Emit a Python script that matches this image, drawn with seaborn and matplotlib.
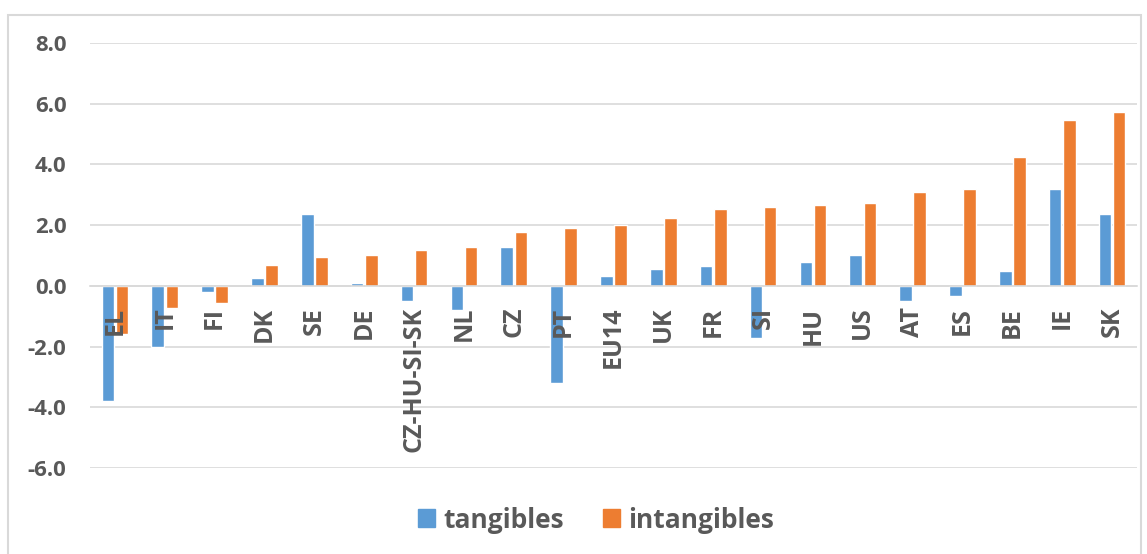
import pandas as pd
import matplotlib.pyplot as plt
import matplotlib.patches as mpatches
import seaborn as sns

# values
countries = ["EL", "IT", "FI", "DK", "SE", "DE", "CZ-HU-SI-SK", "NL", "CZ", "PT", "EU14",
             "UK", "FR", "SI", "HU", "US", "AT", "ES", "BE", "IE", "SK"]
tangibles = [-3.80, -2.03, -0.19, 0.27, 2.36, 0.09, -0.50, -0.78, 1.28, -3.20, 0.33,
             0.55, 0.66, -1.72, 0.77, 1.03, -0.50, -0.35, 0.49, 3.20, 2.36]
intangibles = [-1.60, -0.74, -0.56, 0.70, 0.95, 1.03, 1.17, 1.28, 1.79, 1.90, 1.99,
               2.25, 2.53, 2.61, 2.65, 2.72, 3.08, 3.20, 4.23, 5.47, 5.72]
series_names = ["tangibles", "intangibles"]
yticks = [-6, -4, -2, 0, 2, 4, 6, 8]

BLUE = "#5B9BD5"
ORANGE = "#ED7D31"
GRID = "#D9D9D9"
TEXT = "#595959"

df = pd.DataFrame({
    "country": countries * 2,
    "value": tangibles + intangibles,
    "series": [series_names[0]] * len(countries) + [series_names[1]] * len(countries),
})

sns.set_style("white")
plt.rcParams["font.family"] = ["Open Sans", "DejaVu Sans"]

fig = plt.figure(figsize=(11.47, 5.54), dpi=100)
ax = fig.add_axes([90 / 1147, 1 - 468 / 554, (1137 - 90) / 1147, (468 - 43) / 554])

sns.barplot(data=df, x="country", y="value", hue="series", palette=[BLUE, ORANGE],
            width=0.57, gap=0.12, saturation=1, legend=False, ax=ax)

ax.set_ylim(-6, 8)
ax.set_xlim(-0.5, len(countries) - 0.5)
ax.set_yticks(yticks)
ax.set_yticklabels([f"{v:.1f}" for v in yticks], fontsize=16, fontweight="bold", color=TEXT)
ax.yaxis.grid(True, color=GRID, linewidth=1.2)
ax.set_axisbelow(True)
# category labels sit on top of the bars, as in the source
ax.xaxis.set_zorder(5)
ax.set_xlabel("")
ax.set_ylabel("")

for side in ["top", "left", "right"]:
    ax.spines[side].set_visible(False)
ax.spines["bottom"].set_position(("data", 0))
ax.spines["bottom"].set_color(GRID)
ax.spines["bottom"].set_linewidth(1.2)
ax.tick_params(axis="x", length=0, pad=15)
ax.tick_params(axis="y", length=0, pad=17)
ax.set_xticks(range(len(countries)))
ax.set_xticklabels(countries, rotation=90, fontsize=18, fontweight="bold", color=TEXT,
                   ha="center", va="top")

handles = [mpatches.Patch(color=BLUE, label=series_names[0]),
           mpatches.Patch(color=ORANGE, label=series_names[1])]
fig.legend(handles=handles, loc="center", bbox_to_anchor=(596 / 1147, 1 - 520 / 554), ncol=2,
           frameon=False, handlelength=0.65, handleheight=0.65, handletextpad=0.3,
           columnspacing=1.5, prop={"size": 19, "weight": "bold"}, labelcolor=TEXT)

# light chart border like the source
fig.patches.append(mpatches.Rectangle((8 / 1147, -0.05), (1141 - 8) / 1147, 1.05 - 15 / 554,
                                      transform=fig.transFigure, fill=False,
                                      edgecolor=GRID, linewidth=1.5))

fig.savefig("out.png", dpi=100)
